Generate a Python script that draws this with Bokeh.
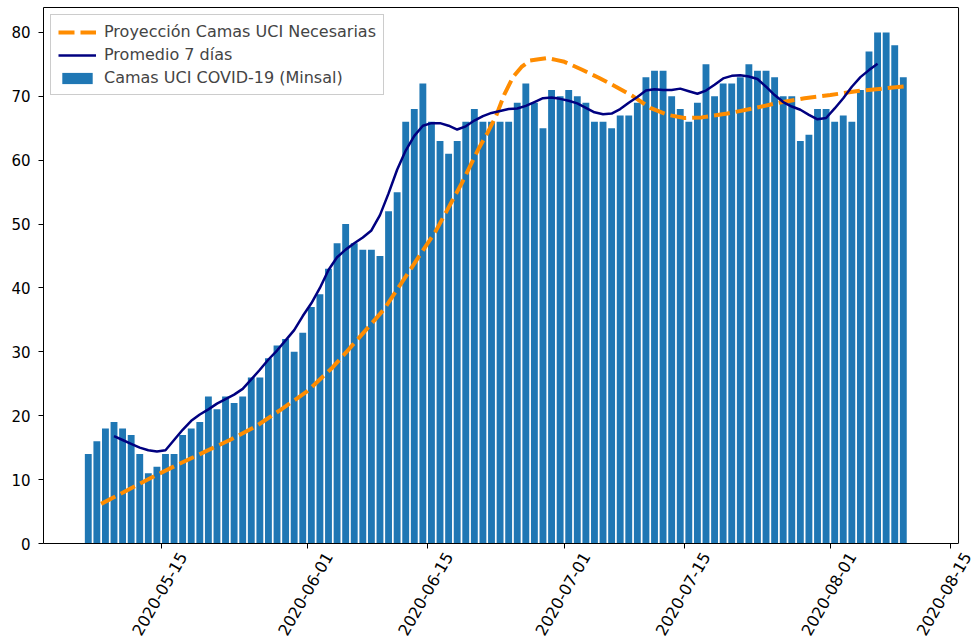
import pandas as pd
from math import pi
from bokeh.plotting import figure
from bokeh.models import Range1d, FixedTicker, Legend, LegendItem, DatetimeAxis, Span
from bokeh.embed import file_html
from bokeh.resources import INLINE

# ---------------- data ----------------
bar_start = "2020-05-06"
camas_uci = [14, 16, 18, 19, 18, 17, 14, 11, 12, 14,
             14, 17, 18, 19, 23, 21, 23, 22, 23, 26,
             26, 29, 31, 32, 30, 33, 37, 39, 43, 47,
             50, 47, 46, 46, 45, 52, 55, 66, 68, 72,
             66, 63, 61, 63, 66, 68, 66, 66, 66, 66,
             69, 72, 69, 65, 71, 70, 71, 70, 69, 66,
             66, 65, 67, 67, 69, 73, 74, 74, 70, 68,
             66, 69, 75, 70, 72, 72, 73, 75, 74, 74,
             73, 70, 70, 63, 64, 68, 68, 66, 67, 66,
             71, 77, 80, 80, 78, 73]

avg_start = "2020-05-09"
promedio_7d = [16.8, 16.2, 15.6, 15.0, 14.6, 14.4, 14.6, 16.2, 17.8, 19.2,
               20.2, 21.0, 21.9, 22.6, 23.3, 24.2, 25.7, 27.2, 28.8, 30.2,
               31.8, 33.4, 35.6, 37.6, 40.0, 42.8, 44.8, 46.0, 47.0, 47.9,
               49.0, 51.4, 54.8, 58.5, 61.5, 63.8, 65.4, 65.8, 65.8, 65.4,
               64.8, 65.3, 66.2, 66.9, 67.4, 67.7, 68.0, 68.1, 68.5, 69.1,
               69.7, 69.8, 69.6, 69.3, 68.9, 68.2, 67.5, 67.2, 67.3, 68.0,
               69.0, 69.9, 70.9, 71.1, 71.0, 71.0, 71.2, 70.8, 70.4, 70.9,
               71.8, 72.8, 73.2, 73.3, 73.1, 72.7, 71.5, 70.2, 69.1, 68.4,
               67.9, 67.1, 66.4, 66.6, 68.1, 69.7, 71.5, 73.0, 74.1, 75.1]

proj_dates = ["2020-05-08", "2020-05-11", "2020-05-14", "2020-05-17", "2020-05-20",
              "2020-05-23", "2020-05-26", "2020-05-29", "2020-06-01", "2020-06-04",
              "2020-06-07", "2020-06-10", "2020-06-13", "2020-06-16", "2020-06-19",
              "2020-06-21", "2020-06-22", "2020-06-23", "2020-06-24", "2020-06-25",
              "2020-06-26", "2020-06-27", "2020-06-28", "2020-06-29", "2020-06-30",
              "2020-07-01", "2020-07-03", "2020-07-05", "2020-07-07", "2020-07-09",
              "2020-07-11", "2020-07-13", "2020-07-15", "2020-07-17", "2020-07-20",
              "2020-07-23", "2020-07-26", "2020-07-29", "2020-08-01", "2020-08-04",
              "2020-08-07", "2020-08-10"]
proj_values = [6.2, 8.3, 10.4, 12.4, 14.3,
               16.2, 18.3, 21.0, 23.8, 27.6,
               32.1, 36.7, 42.8, 48.9, 56.3,
               61.8, 64.2, 66.8, 70.3, 73.0,
               74.6, 75.6, 75.8, 76.0, 75.7,
               75.4, 74.2, 72.9, 71.5, 70.0,
               68.2, 67.1, 66.6, 66.7, 67.3,
               68.1, 69.0, 69.7, 70.2, 70.8,
               71.2, 71.6]

x_tick_labels = ["2020-05-15", "2020-06-01", "2020-06-15", "2020-07-01",
                 "2020-07-15", "2020-08-01", "2020-08-15"]
y_ticks = [0, 10, 20, 30, 40, 50, 60, 70, 80]

label_proj = "Proyección Camas UCI Necesarias"
label_avg = "Promedio 7 días"
label_bar = "Camas UCI COVID-19 (Minsal)"

# ---------------- build ----------------
DAY_MS = 86400000


def ms(ts):
    return int(pd.Timestamp(ts).value // 10**6)


bar_x = pd.date_range(bar_start, periods=len(camas_uci), freq="D") + pd.Timedelta(hours=12)
avg_x = pd.date_range(avg_start, periods=len(promedio_7d), freq="D") + pd.Timedelta(hours=12)
proj_x = pd.to_datetime(proj_dates)

FONT = "DejaVu Sans"

x_start = "2020-05-01 06:45"      # left spine
x_spine_end = "2020-08-15 22:30"  # right spine (axes box)
x_view_end = "2020-08-18 00:45"   # frame extends to the image edge so the last label fits
label_limit = "2020-08-16 22:00"  # keep the last rotated label inside the image

p = figure(width=976, height=643, x_axis_type="datetime",
           output_backend="svg", toolbar_location=None,
           x_range=Range1d(pd.Timestamp(x_start), pd.Timestamp(x_view_end)),
           y_range=Range1d(0, 83.9),
           min_border_left=43, min_border_right=0, min_border_top=7, min_border_bottom=99)

p.xgrid.visible = False
p.ygrid.visible = False
p.outline_line_color = None
p.background_fill_color = "white"
p.border_fill_color = "white"

bars = p.vbar(x=bar_x, top=camas_uci, width=0.8 * DAY_MS, fill_color="#1f77b4", line_color=None)
proj = p.line(proj_x, proj_values, line_color="darkorange", line_width=4, line_dash="16 6")
avg = p.line(avg_x, promedio_7d, line_color="navy", line_width=2.5)

# x axis 1: bottom spine + tick marks at the real dates
tick_ms = [ms(d) for d in x_tick_labels]
ax1 = p.xaxis[0]
ax1.ticker = FixedTicker(ticks=tick_ms)
ax1.bounds = (ms(x_start), ms(x_spine_end))
ax1.major_label_text_color = None
ax1.major_label_text_font_size = "1px"
ax1.major_label_standoff = 0
ax1.major_tick_out = 5
ax1.major_tick_in = 0
ax1.minor_tick_line_color = None
ax1.axis_line_color = "black"
ax1.major_tick_line_color = "black"

# x axis 2: rotated date labels, shifted so they sit centred on the ticks (matplotlib style)
shift_ms = int(2.5 * DAY_MS)
label_ms = [min(t + shift_ms, ms(label_limit)) for t in tick_ms]
ax2 = DatetimeAxis(ticker=FixedTicker(ticks=label_ms),
                   major_label_overrides={m: d for m, d in zip(label_ms, x_tick_labels)},
                   major_label_orientation=pi / 3,
                   major_label_text_font=FONT, major_label_text_font_size="16px",
                   major_label_text_color="black", major_label_standoff=5,
                   axis_line_color=None, major_tick_line_color=None,
                   minor_tick_line_color=None, major_tick_out=0, major_tick_in=0)
p.add_layout(ax2, "below")

# top spine (box) limited to the axes width
top_ax = DatetimeAxis(ticker=FixedTicker(ticks=[]), bounds=(ms(x_start), ms(x_spine_end)),
                      axis_line_color="black", major_tick_line_color=None,
                      minor_tick_line_color=None, major_label_text_color=None,
                      major_label_text_font_size="1px", major_label_standoff=0,
                      major_tick_out=0, major_tick_in=0)
p.add_layout(top_ax, "above")

# right spine
p.add_layout(Span(location=ms(x_spine_end), dimension="height", line_color="black", line_width=1))

p.yaxis.ticker = FixedTicker(ticks=y_ticks)
p.yaxis.major_label_text_font = FONT
p.yaxis.major_label_text_font_size = "15px"
p.yaxis.major_label_text_color = "black"
p.yaxis.major_tick_out = 5
p.yaxis.major_tick_in = 0
p.yaxis.minor_tick_line_color = None
p.yaxis.axis_line_color = "black"
p.yaxis.major_tick_line_color = "black"
p.yaxis.major_label_standoff = 8

legend = Legend(items=[LegendItem(label=label_proj, renderers=[proj]),
                       LegendItem(label=label_avg, renderers=[avg]),
                       LegendItem(label=label_bar, renderers=[bars])],
                location="top_left", margin=7, padding=7, spacing=4,
                glyph_width=38, glyph_height=14, label_height=19, label_standoff=8,
                label_text_font=FONT, label_text_font_size="16px",
                border_line_color="#cccccc", border_line_alpha=1,
                background_fill_color="white", background_fill_alpha=0.8)
p.add_layout(legend)

open("out.html", "w").write(file_html(p, INLINE))
